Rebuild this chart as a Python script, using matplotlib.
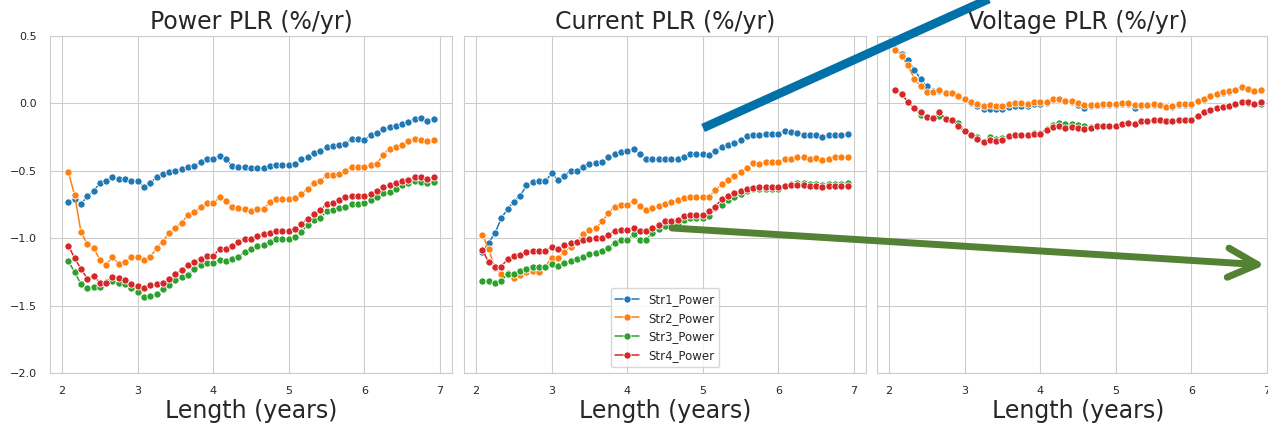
import numpy as np
import matplotlib
matplotlib.use("Agg")
import matplotlib.pyplot as plt
import seaborn as sns
from matplotlib.lines import Line2D
from matplotlib.patches import FancyArrowPatch

# window length in years (monthly steps, 25 to 83 months)
length_years = np.arange(25, 84) / 12

strings = ['Str1_Power', 'Str2_Power', 'Str3_Power', 'Str4_Power']
titles = ['Power PLR (%/yr)', 'Current PLR (%/yr)', 'Voltage PLR (%/yr)']

power_str1 = [-0.734, -0.707, -0.747, -0.690, -0.653, -0.588, -0.573, -0.548, -0.563, -0.563,
              -0.573, -0.576, -0.620, -0.588, -0.548, -0.521, -0.511, -0.501, -0.484, -0.474,
              -0.462, -0.437, -0.412, -0.414, -0.387, -0.414, -0.462, -0.469, -0.470, -0.480,
              -0.479, -0.476, -0.467, -0.459, -0.459, -0.459, -0.452, -0.412, -0.395, -0.370,
              -0.355, -0.325, -0.318, -0.310, -0.300, -0.266, -0.266, -0.268, -0.238, -0.223,
              -0.191, -0.176, -0.164, -0.156, -0.136, -0.114, -0.112, -0.132, -0.119]
power_str2 = [-0.511, -0.682, -0.953, -1.045, -1.072, -1.159, -1.196, -1.141, -1.191, -1.176,
              -1.141, -1.141, -1.159, -1.141, -1.074, -1.025, -0.958, -0.921, -0.886, -0.826,
              -0.806, -0.769, -0.742, -0.742, -0.697, -0.727, -0.769, -0.779, -0.780, -0.801,
              -0.782, -0.782, -0.734, -0.710, -0.710, -0.710, -0.702, -0.670, -0.633, -0.593,
              -0.573, -0.534, -0.529, -0.524, -0.499, -0.469, -0.469, -0.474, -0.457, -0.447,
              -0.380, -0.337, -0.325, -0.310, -0.280, -0.266, -0.273, -0.280, -0.270]
power_str3 = [-1.169, -1.253, -1.340, -1.367, -1.360, -1.360, -1.328, -1.318, -1.330, -1.340,
              -1.372, -1.397, -1.437, -1.429, -1.417, -1.380, -1.347, -1.313, -1.288, -1.275,
              -1.226, -1.199, -1.184, -1.184, -1.159, -1.169, -1.154, -1.136, -1.103, -1.080,
              -1.057, -1.050, -1.025, -1.005, -1.005, -1.005, -0.993, -0.953, -0.903, -0.868,
              -0.851, -0.801, -0.792, -0.777, -0.772, -0.744, -0.744, -0.742, -0.720, -0.697,
              -0.665, -0.658, -0.635, -0.608, -0.593, -0.578, -0.583, -0.593, -0.583]
power_str4 = [-1.055, -1.149, -1.228, -1.300, -1.280, -1.330, -1.330, -1.285, -1.298, -1.313,
              -1.340, -1.357, -1.372, -1.345, -1.340, -1.335, -1.305, -1.268, -1.233, -1.199,
              -1.174, -1.151, -1.132, -1.134, -1.077, -1.082, -1.055, -1.027, -1.006, -1.005,
              -0.980, -0.970, -0.965, -0.945, -0.945, -0.945, -0.931, -0.893, -0.856, -0.821,
              -0.791, -0.747, -0.742, -0.715, -0.697, -0.687, -0.687, -0.687, -0.672, -0.650,
              -0.618, -0.608, -0.591, -0.578, -0.568, -0.546, -0.546, -0.563, -0.546]

current_str1 = [-1.106, -1.032, -0.963, -0.851, -0.785, -0.728, -0.686, -0.609, -0.584, -0.579,
                -0.579, -0.517, -0.569, -0.537, -0.498, -0.498, -0.470, -0.450, -0.443, -0.436,
                -0.401, -0.374, -0.359, -0.356, -0.339, -0.379, -0.411, -0.411, -0.413, -0.411,
                -0.411, -0.411, -0.394, -0.376, -0.376, -0.376, -0.386, -0.356, -0.324, -0.309,
                -0.295, -0.275, -0.245, -0.235, -0.238, -0.225, -0.225, -0.225, -0.203, -0.215,
                -0.218, -0.233, -0.235, -0.238, -0.250, -0.238, -0.235, -0.235, -0.230]
current_str2 = [-0.973, -1.082, -1.223, -1.265, -1.255, -1.292, -1.275, -1.248, -1.240, -1.248,
                -1.210, -1.144, -1.144, -1.104, -1.062, -1.030, -0.968, -0.938, -0.926, -0.876,
                -0.814, -0.765, -0.755, -0.752, -0.723, -0.760, -0.790, -0.777, -0.760, -0.748,
                -0.735, -0.720, -0.705, -0.696, -0.696, -0.696, -0.691, -0.646, -0.597, -0.567,
                -0.542, -0.510, -0.480, -0.443, -0.448, -0.436, -0.436, -0.436, -0.413, -0.413,
                -0.401, -0.401, -0.413, -0.408, -0.423, -0.413, -0.401, -0.401, -0.396]
current_str3 = [-1.317, -1.317, -1.329, -1.314, -1.267, -1.267, -1.240, -1.225, -1.210, -1.210,
                -1.210, -1.191, -1.205, -1.186, -1.168, -1.153, -1.136, -1.116, -1.111, -1.092,
                -1.069, -1.037, -1.017, -1.017, -0.970, -1.017, -1.012, -0.963, -0.931, -0.908,
                -0.894, -0.889, -0.864, -0.851, -0.851, -0.851, -0.839, -0.777, -0.752, -0.715,
                -0.696, -0.671, -0.653, -0.636, -0.634, -0.634, -0.634, -0.634, -0.616, -0.597,
                -0.592, -0.592, -0.597, -0.597, -0.604, -0.597, -0.597, -0.597, -0.592]
current_str4 = [-1.087, -1.178, -1.210, -1.210, -1.156, -1.131, -1.126, -1.104, -1.092, -1.092,
                -1.092, -1.064, -1.082, -1.054, -1.032, -1.027, -1.012, -1.005, -1.000, -0.998,
                -0.975, -0.946, -0.938, -0.941, -0.921, -0.946, -0.943, -0.926, -0.899, -0.876,
                -0.876, -0.864, -0.839, -0.827, -0.827, -0.827, -0.795, -0.765, -0.710, -0.686,
                -0.661, -0.649, -0.634, -0.624, -0.621, -0.621, -0.621, -0.621, -0.611, -0.609,
                -0.609, -0.609, -0.616, -0.616, -0.621, -0.616, -0.616, -0.616, -0.611]

voltage_str1 = [0.400, 0.369, 0.319, 0.250, 0.181, 0.126, 0.089, 0.089, 0.077, 0.077,
                0.057, 0.032, 0.002, -0.022, -0.040, -0.040, -0.040, -0.040, -0.030, -0.020,
                -0.017, -0.022, -0.005, -0.002, 0.002, 0.027, 0.035, 0.020, 0.010, -0.015,
                -0.037, -0.017, -0.015, -0.010, -0.010, -0.010, -0.002, -0.002, -0.037, -0.017,
                -0.015, -0.010, -0.015, -0.030, -0.025, -0.012, -0.010, -0.010, 0.015, 0.027,
                0.052, 0.067, 0.079, 0.084, 0.097, 0.119, 0.104, 0.089, 0.097]
voltage_str2 = [0.399, 0.354, 0.282, 0.183, 0.126, 0.082, 0.082, 0.097, 0.077, 0.077,
                0.057, 0.032, 0.012, -0.002, -0.017, -0.010, -0.017, -0.017, -0.002, 0.000,
                0.002, -0.005, 0.010, 0.012, 0.010, 0.032, 0.035, 0.020, 0.016, 0.002,
                -0.012, -0.012, -0.012, -0.007, -0.007, -0.007, 0.002, 0.002, -0.012, -0.012,
                -0.012, -0.005, -0.012, -0.027, -0.022, -0.007, -0.005, -0.007, 0.020, 0.032,
                0.057, 0.072, 0.084, 0.089, 0.101, 0.124, 0.109, 0.094, 0.101]
voltage_str3 = [0.097, 0.072, 0.007, -0.035, -0.084, -0.101, -0.109, -0.092, -0.116, -0.121,
                -0.146, -0.208, -0.233, -0.250, -0.290, -0.252, -0.262, -0.257, -0.240, -0.233,
                -0.233, -0.233, -0.220, -0.220, -0.191, -0.158, -0.146, -0.151, -0.153, -0.158,
                -0.166, -0.176, -0.171, -0.166, -0.166, -0.166, -0.151, -0.146, -0.153, -0.134,
                -0.134, -0.121, -0.121, -0.129, -0.129, -0.121, -0.121, -0.121, -0.097, -0.067,
                -0.047, -0.035, -0.027, -0.022, -0.005, 0.007, 0.002, -0.007, -0.002]
voltage_str4 = [0.097, 0.072, 0.007, -0.035, -0.064, -0.101, -0.109, -0.067, -0.116, -0.121,
                -0.171, -0.208, -0.238, -0.265, -0.290, -0.275, -0.282, -0.275, -0.245, -0.233,
                -0.233, -0.238, -0.225, -0.225, -0.196, -0.178, -0.171, -0.183, -0.178, -0.183,
                -0.191, -0.183, -0.171, -0.166, -0.166, -0.166, -0.151, -0.146, -0.153, -0.134,
                -0.134, -0.121, -0.121, -0.129, -0.129, -0.121, -0.121, -0.121, -0.097, -0.067,
                -0.047, -0.035, -0.027, -0.022, -0.005, 0.012, 0.010, -0.005, 0.007]

panels = [
    [power_str1, power_str2, power_str3, power_str4],
    [current_str1, current_str2, current_str3, current_str4],
    [voltage_str1, voltage_str2, voltage_str3, voltage_str4],
]

sns.set_style('whitegrid')
plt.rcParams['font.family'] = ['DejaVu Sans']
colors = sns.color_palette('tab10', 4)

fig = plt.figure(figsize=(12.68, 4.25), dpi=100)
W, H = 1268, 425
lefts = [50, 464, 877]
axes = []
for i, left in enumerate(lefts):
    ax = fig.add_axes([left / W, 52 / H, 402 / W, 337 / H],
                      sharey=axes[0] if axes else None)
    axes.append(ax)

for i, ax in enumerate(axes):
    for series, name, c in zip(panels[i], strings, colors):
        ax.plot(length_years, series, marker='o', color=c, lw=1.1, ms=5.2,
                mec='white', mew=0.6, label=name)
    ax.set_ylim(-2.0, 0.5)
    ax.set_yticks([-2.0, -1.5, -1.0, -0.5, 0.0, 0.5])
    ax.set_xlim(1.84, 7.16)
    ax.set_xticks([2, 3, 4, 5, 6, 7])
    ax.tick_params(labelsize=8, colors='.15', pad=6)
    ax.set_title(titles[i], fontsize=17, color='.15', pad=5)
    ax.set_xlabel('Length (years)', fontsize=17, color='.15', labelpad=2)
    if i > 0:
        ax.tick_params(labelleft=False)

axes[1].legend(loc='lower center', fontsize=8.5)

# hand-drawn callouts
fig.add_artist(Line2D([703 / W, 1000 / W], [1 - 128 / H, 1 + 6 / H],
                      transform=fig.transFigure, color='#0071A9', lw=6.3,
                      solid_capstyle='butt'))
fig.add_artist(FancyArrowPatch((672 / W, 1 - 228 / H), (1265 / W, 1 - 265 / H),
                               transform=fig.transFigure, color='#548235', lw=5,
                               arrowstyle='->,head_length=21,head_width=10.5',
                               mutation_scale=1, capstyle='round',
                               joinstyle='round', shrinkA=0, shrinkB=0))

fig.savefig('out.png', dpi=100)
